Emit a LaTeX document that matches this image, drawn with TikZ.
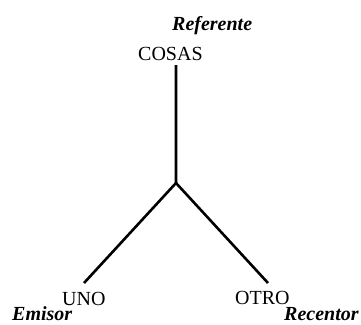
\documentclass[tikz,border=0pt]{standalone}
\usepackage{fontspec}
\setmainfont{Liberation Serif}
\begin{document}
\begin{tikzpicture}[x=1pt,y=-1pt,
  term/.style={inner sep=0pt,anchor=base west,font=\fontsize{20}{22}\selectfont},
  role/.style={inner sep=0pt,anchor=base west,font=\fontsize{20}{22}\selectfont\bfseries\itshape},
  arm/.style={line width=2.6pt,line join=miter}]
  \useasboundingbox (0,0) rectangle (361,324);
  % labels of the triangle
  \node[role] (referente) at (172,30) {Referente};
  \node[term] (cosas) at (138,60) {COSAS};
  \node[term] (uno) at (62,305) {UNO};
  \node[role] (emisor) at (12,320) {Emisor};
  \node[term] (otro) at (235,304) {OTRO};
  \node[role] (receptor) at (284,320) {Recentor};
  % branch points
  \coordinate (top) at (176,65);
  \coordinate (fork) at (176,183);
  \coordinate (left) at (84,283);
  \coordinate (right) at (268,283);
  \draw[arm] (top) -- (fork) -- (left);
  \draw[arm] (fork) -- (right);
\end{tikzpicture}
\end{document}
